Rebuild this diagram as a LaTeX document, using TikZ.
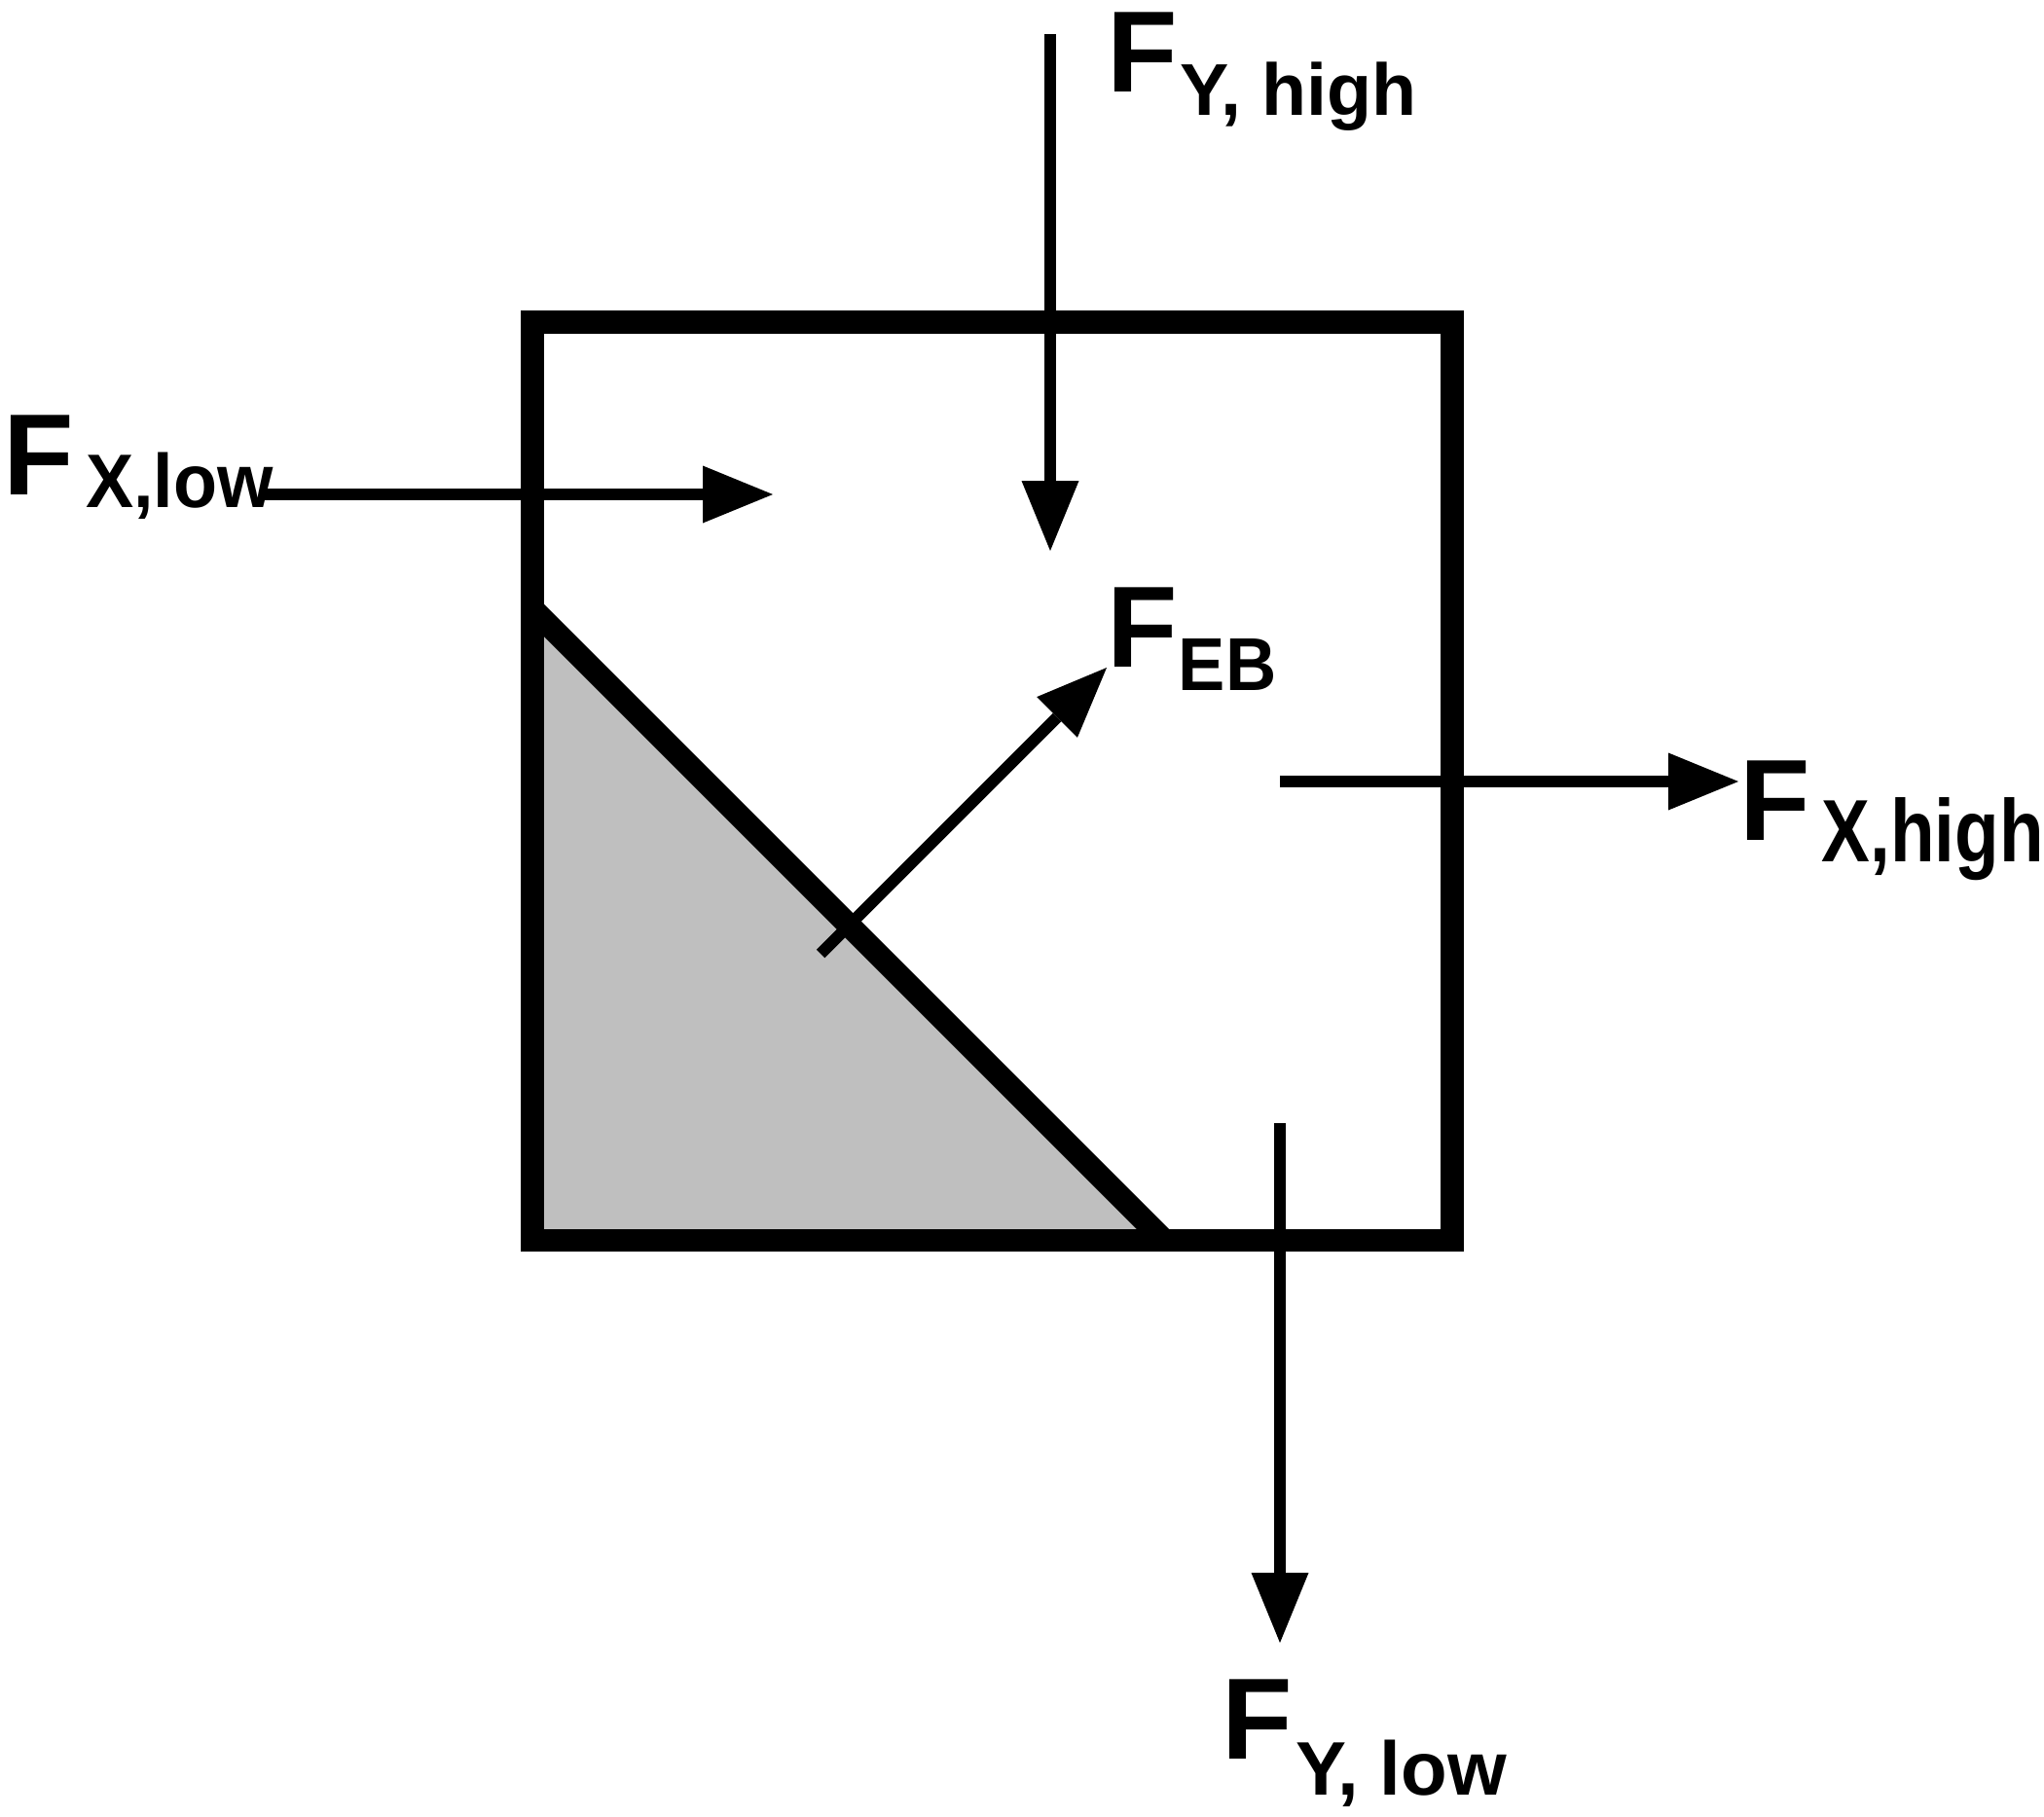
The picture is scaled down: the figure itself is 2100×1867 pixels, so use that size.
\documentclass[tikz,border=0pt]{standalone}
\usepackage{graphicx}
\usepackage{fontspec}
\setmainfont{Liberation Sans}
\usetikzlibrary{arrows.meta}
\definecolor{wedgegray}{RGB}{191,191,191}
\newcommand{\forcelab}[5]{{\fontsize{118.7pt}{130pt}\selectfont F}\hspace*{#1pt}\raisebox{-#2pt}{\scalebox{#5}[1]{\fontsize{#3pt}{#3pt}\selectfont #4}}}
\tikzset{
  wall/.style={line width=23.5pt, line join=miter},
  force/.style={line width=12pt, -{Triangle[length=72pt,width=59pt,line width=0pt]}},
  flabel/.style={anchor=base west, inner sep=0pt, outer sep=0pt, font=\bfseries},
}
\begin{document}
\begin{tikzpicture}[x=1pt,y=-1pt]
\useasboundingbox (0,0) rectangle (2100,1867);
% box corners and wedge
\coordinate (tl) at (547,331);
\coordinate (br) at (1492,1274.5);
\coordinate (dtop) at (547,625.5);
\coordinate (dbot) at (1196,1274.5);
\coordinate (bl) at (547,1274.5);
\fill[wedgegray] (dtop) -- (bl) -- (dbot) -- cycle;
\draw[wall, line cap=butt] (dtop) -- (dbot);
\draw[wall] (tl) rectangle (br);
% force arrows
\coordinate (yh0) at (1079,35);
\coordinate (yh1) at (1079,566);
\coordinate (xl0) at (272,508);
\coordinate (xl1) at (794,508);
\coordinate (eb0) at (843,980);
\coordinate (eb1) at (1137,686);
\coordinate (xh0) at (1315,803);
\coordinate (xh1) at (1786,803);
\coordinate (yl0) at (1315,1154);
\coordinate (yl1) at (1315,1688);
\draw[force] (yh0) -- (yh1);
\draw[force] (xl0) -- (xl1);
\draw[force] (eb0) -- (eb1);
\draw[force] (xh0) -- (xh1);
\draw[force] (yl0) -- (yl1);
% labels
\node[flabel] (lyh) at (1137.3,95) {\forcelab{3}{24}{75.4}{Y, high}{1}};
\node[flabel] (lxl) at (3.3,508) {\forcelab{12.4}{13}{78}{X,low}{0.945}};
\node[flabel] (leb) at (1137.3,685) {\forcelab{1}{24}{77}{EB}{0.94}};
\node[flabel] (lxh) at (1787.3,863) {\forcelab{12}{22}{91}{X,high}{0.82}};
\node[flabel] (lyl) at (1255.3,1807) {\forcelab{3.5}{37}{78}{Y, low}{1}};
\end{tikzpicture}
\end{document}
